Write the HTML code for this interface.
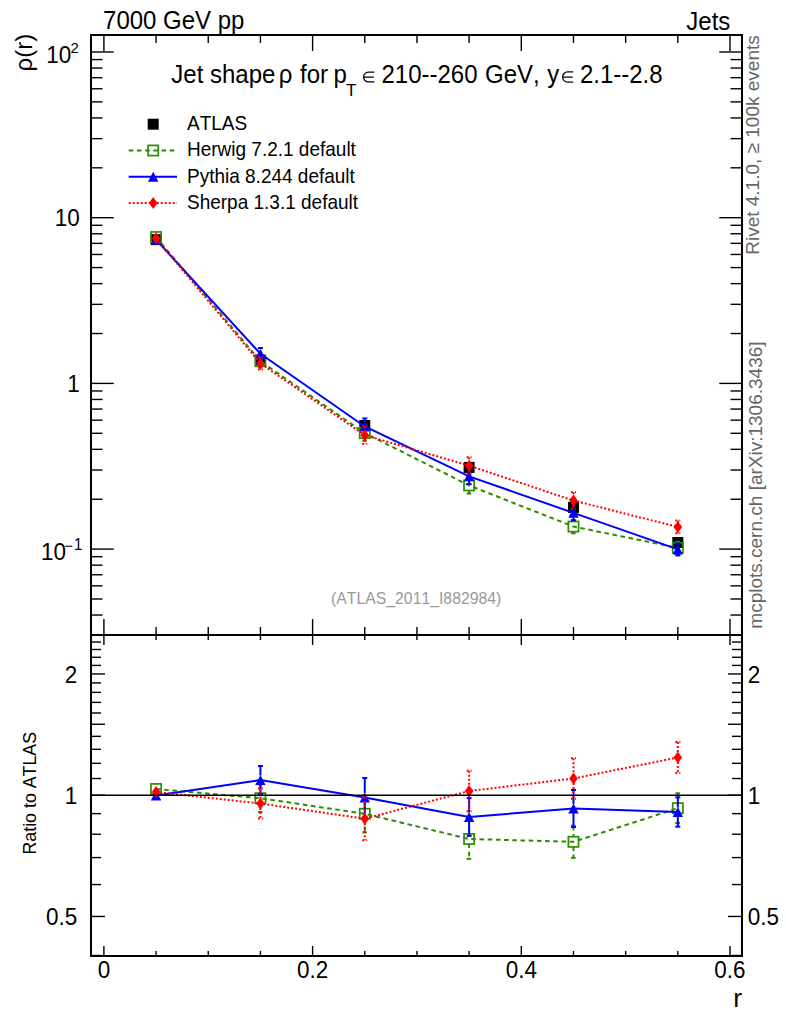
<!DOCTYPE html>
<html><head><meta charset="utf-8"><title>Jet shape</title>
<style>html,body{margin:0;padding:0;background:#fff;width:786px;height:1024px;overflow:hidden}svg{display:block}text{font-kerning:none}</style>
</head><body>
<svg width="786" height="1024" viewBox="0 0 786 1024">
<rect width="786" height="1024" fill="#fff"/>
<line x1="91.00" y1="615.04" x2="102.50" y2="615.04" stroke="#000" stroke-width="1.4" />
<line x1="742.00" y1="615.04" x2="730.50" y2="615.04" stroke="#000" stroke-width="1.4" />
<line x1="91.00" y1="598.98" x2="102.50" y2="598.98" stroke="#000" stroke-width="1.4" />
<line x1="742.00" y1="598.98" x2="730.50" y2="598.98" stroke="#000" stroke-width="1.4" />
<line x1="91.00" y1="585.86" x2="102.50" y2="585.86" stroke="#000" stroke-width="1.4" />
<line x1="742.00" y1="585.86" x2="730.50" y2="585.86" stroke="#000" stroke-width="1.4" />
<line x1="91.00" y1="574.77" x2="102.50" y2="574.77" stroke="#000" stroke-width="1.4" />
<line x1="742.00" y1="574.77" x2="730.50" y2="574.77" stroke="#000" stroke-width="1.4" />
<line x1="91.00" y1="565.16" x2="102.50" y2="565.16" stroke="#000" stroke-width="1.4" />
<line x1="742.00" y1="565.16" x2="730.50" y2="565.16" stroke="#000" stroke-width="1.4" />
<line x1="91.00" y1="556.68" x2="102.50" y2="556.68" stroke="#000" stroke-width="1.4" />
<line x1="742.00" y1="556.68" x2="730.50" y2="556.68" stroke="#000" stroke-width="1.4" />
<line x1="91.00" y1="549.10" x2="113.75" y2="549.10" stroke="#000" stroke-width="1.4" />
<line x1="742.00" y1="549.10" x2="719.25" y2="549.10" stroke="#000" stroke-width="1.4" />
<line x1="91.00" y1="499.22" x2="102.50" y2="499.22" stroke="#000" stroke-width="1.4" />
<line x1="742.00" y1="499.22" x2="730.50" y2="499.22" stroke="#000" stroke-width="1.4" />
<line x1="91.00" y1="470.04" x2="102.50" y2="470.04" stroke="#000" stroke-width="1.4" />
<line x1="742.00" y1="470.04" x2="730.50" y2="470.04" stroke="#000" stroke-width="1.4" />
<line x1="91.00" y1="449.34" x2="102.50" y2="449.34" stroke="#000" stroke-width="1.4" />
<line x1="742.00" y1="449.34" x2="730.50" y2="449.34" stroke="#000" stroke-width="1.4" />
<line x1="91.00" y1="433.28" x2="102.50" y2="433.28" stroke="#000" stroke-width="1.4" />
<line x1="742.00" y1="433.28" x2="730.50" y2="433.28" stroke="#000" stroke-width="1.4" />
<line x1="91.00" y1="420.16" x2="102.50" y2="420.16" stroke="#000" stroke-width="1.4" />
<line x1="742.00" y1="420.16" x2="730.50" y2="420.16" stroke="#000" stroke-width="1.4" />
<line x1="91.00" y1="409.07" x2="102.50" y2="409.07" stroke="#000" stroke-width="1.4" />
<line x1="742.00" y1="409.07" x2="730.50" y2="409.07" stroke="#000" stroke-width="1.4" />
<line x1="91.00" y1="399.46" x2="102.50" y2="399.46" stroke="#000" stroke-width="1.4" />
<line x1="742.00" y1="399.46" x2="730.50" y2="399.46" stroke="#000" stroke-width="1.4" />
<line x1="91.00" y1="390.98" x2="102.50" y2="390.98" stroke="#000" stroke-width="1.4" />
<line x1="742.00" y1="390.98" x2="730.50" y2="390.98" stroke="#000" stroke-width="1.4" />
<line x1="91.00" y1="383.40" x2="113.75" y2="383.40" stroke="#000" stroke-width="1.4" />
<line x1="742.00" y1="383.40" x2="719.25" y2="383.40" stroke="#000" stroke-width="1.4" />
<line x1="91.00" y1="333.52" x2="102.50" y2="333.52" stroke="#000" stroke-width="1.4" />
<line x1="742.00" y1="333.52" x2="730.50" y2="333.52" stroke="#000" stroke-width="1.4" />
<line x1="91.00" y1="304.34" x2="102.50" y2="304.34" stroke="#000" stroke-width="1.4" />
<line x1="742.00" y1="304.34" x2="730.50" y2="304.34" stroke="#000" stroke-width="1.4" />
<line x1="91.00" y1="283.64" x2="102.50" y2="283.64" stroke="#000" stroke-width="1.4" />
<line x1="742.00" y1="283.64" x2="730.50" y2="283.64" stroke="#000" stroke-width="1.4" />
<line x1="91.00" y1="267.58" x2="102.50" y2="267.58" stroke="#000" stroke-width="1.4" />
<line x1="742.00" y1="267.58" x2="730.50" y2="267.58" stroke="#000" stroke-width="1.4" />
<line x1="91.00" y1="254.46" x2="102.50" y2="254.46" stroke="#000" stroke-width="1.4" />
<line x1="742.00" y1="254.46" x2="730.50" y2="254.46" stroke="#000" stroke-width="1.4" />
<line x1="91.00" y1="243.37" x2="102.50" y2="243.37" stroke="#000" stroke-width="1.4" />
<line x1="742.00" y1="243.37" x2="730.50" y2="243.37" stroke="#000" stroke-width="1.4" />
<line x1="91.00" y1="233.76" x2="102.50" y2="233.76" stroke="#000" stroke-width="1.4" />
<line x1="742.00" y1="233.76" x2="730.50" y2="233.76" stroke="#000" stroke-width="1.4" />
<line x1="91.00" y1="225.28" x2="102.50" y2="225.28" stroke="#000" stroke-width="1.4" />
<line x1="742.00" y1="225.28" x2="730.50" y2="225.28" stroke="#000" stroke-width="1.4" />
<line x1="91.00" y1="217.70" x2="113.75" y2="217.70" stroke="#000" stroke-width="1.4" />
<line x1="742.00" y1="217.70" x2="719.25" y2="217.70" stroke="#000" stroke-width="1.4" />
<line x1="91.00" y1="167.82" x2="102.50" y2="167.82" stroke="#000" stroke-width="1.4" />
<line x1="742.00" y1="167.82" x2="730.50" y2="167.82" stroke="#000" stroke-width="1.4" />
<line x1="91.00" y1="138.64" x2="102.50" y2="138.64" stroke="#000" stroke-width="1.4" />
<line x1="742.00" y1="138.64" x2="730.50" y2="138.64" stroke="#000" stroke-width="1.4" />
<line x1="91.00" y1="117.94" x2="102.50" y2="117.94" stroke="#000" stroke-width="1.4" />
<line x1="742.00" y1="117.94" x2="730.50" y2="117.94" stroke="#000" stroke-width="1.4" />
<line x1="91.00" y1="101.88" x2="102.50" y2="101.88" stroke="#000" stroke-width="1.4" />
<line x1="742.00" y1="101.88" x2="730.50" y2="101.88" stroke="#000" stroke-width="1.4" />
<line x1="91.00" y1="88.76" x2="102.50" y2="88.76" stroke="#000" stroke-width="1.4" />
<line x1="742.00" y1="88.76" x2="730.50" y2="88.76" stroke="#000" stroke-width="1.4" />
<line x1="91.00" y1="77.67" x2="102.50" y2="77.67" stroke="#000" stroke-width="1.4" />
<line x1="742.00" y1="77.67" x2="730.50" y2="77.67" stroke="#000" stroke-width="1.4" />
<line x1="91.00" y1="68.06" x2="102.50" y2="68.06" stroke="#000" stroke-width="1.4" />
<line x1="742.00" y1="68.06" x2="730.50" y2="68.06" stroke="#000" stroke-width="1.4" />
<line x1="91.00" y1="59.58" x2="102.50" y2="59.58" stroke="#000" stroke-width="1.4" />
<line x1="742.00" y1="59.58" x2="730.50" y2="59.58" stroke="#000" stroke-width="1.4" />
<line x1="91.00" y1="52.00" x2="113.75" y2="52.00" stroke="#000" stroke-width="1.4" />
<line x1="742.00" y1="52.00" x2="719.25" y2="52.00" stroke="#000" stroke-width="1.4" />
<line x1="103.90" y1="35.00" x2="103.90" y2="51.00" stroke="#000" stroke-width="1.4" />
<line x1="103.90" y1="635.00" x2="103.90" y2="619.00" stroke="#000" stroke-width="1.4" />
<line x1="156.08" y1="35.00" x2="156.08" y2="43.00" stroke="#000" stroke-width="1.4" />
<line x1="156.08" y1="635.00" x2="156.08" y2="627.00" stroke="#000" stroke-width="1.4" />
<line x1="208.25" y1="35.00" x2="208.25" y2="43.00" stroke="#000" stroke-width="1.4" />
<line x1="208.25" y1="635.00" x2="208.25" y2="627.00" stroke="#000" stroke-width="1.4" />
<line x1="260.43" y1="35.00" x2="260.43" y2="43.00" stroke="#000" stroke-width="1.4" />
<line x1="260.43" y1="635.00" x2="260.43" y2="627.00" stroke="#000" stroke-width="1.4" />
<line x1="312.60" y1="35.00" x2="312.60" y2="51.00" stroke="#000" stroke-width="1.4" />
<line x1="312.60" y1="635.00" x2="312.60" y2="619.00" stroke="#000" stroke-width="1.4" />
<line x1="364.77" y1="35.00" x2="364.77" y2="43.00" stroke="#000" stroke-width="1.4" />
<line x1="364.77" y1="635.00" x2="364.77" y2="627.00" stroke="#000" stroke-width="1.4" />
<line x1="416.95" y1="35.00" x2="416.95" y2="43.00" stroke="#000" stroke-width="1.4" />
<line x1="416.95" y1="635.00" x2="416.95" y2="627.00" stroke="#000" stroke-width="1.4" />
<line x1="469.12" y1="35.00" x2="469.12" y2="43.00" stroke="#000" stroke-width="1.4" />
<line x1="469.12" y1="635.00" x2="469.12" y2="627.00" stroke="#000" stroke-width="1.4" />
<line x1="521.30" y1="35.00" x2="521.30" y2="51.00" stroke="#000" stroke-width="1.4" />
<line x1="521.30" y1="635.00" x2="521.30" y2="619.00" stroke="#000" stroke-width="1.4" />
<line x1="573.48" y1="35.00" x2="573.48" y2="43.00" stroke="#000" stroke-width="1.4" />
<line x1="573.48" y1="635.00" x2="573.48" y2="627.00" stroke="#000" stroke-width="1.4" />
<line x1="625.65" y1="35.00" x2="625.65" y2="43.00" stroke="#000" stroke-width="1.4" />
<line x1="625.65" y1="635.00" x2="625.65" y2="627.00" stroke="#000" stroke-width="1.4" />
<line x1="677.83" y1="35.00" x2="677.83" y2="43.00" stroke="#000" stroke-width="1.4" />
<line x1="677.83" y1="635.00" x2="677.83" y2="627.00" stroke="#000" stroke-width="1.4" />
<line x1="730.00" y1="35.00" x2="730.00" y2="51.00" stroke="#000" stroke-width="1.4" />
<line x1="730.00" y1="635.00" x2="730.00" y2="619.00" stroke="#000" stroke-width="1.4" />
<line x1="91.00" y1="955.49" x2="101.00" y2="955.49" stroke="#000" stroke-width="1.4" />
<line x1="742.00" y1="955.49" x2="732.00" y2="955.49" stroke="#000" stroke-width="1.4" />
<line x1="91.00" y1="916.45" x2="105.00" y2="916.45" stroke="#000" stroke-width="1.4" />
<line x1="742.00" y1="916.45" x2="728.00" y2="916.45" stroke="#000" stroke-width="1.4" />
<line x1="91.00" y1="884.56" x2="101.00" y2="884.56" stroke="#000" stroke-width="1.4" />
<line x1="742.00" y1="884.56" x2="732.00" y2="884.56" stroke="#000" stroke-width="1.4" />
<line x1="91.00" y1="857.59" x2="101.00" y2="857.59" stroke="#000" stroke-width="1.4" />
<line x1="742.00" y1="857.59" x2="732.00" y2="857.59" stroke="#000" stroke-width="1.4" />
<line x1="91.00" y1="834.24" x2="101.00" y2="834.24" stroke="#000" stroke-width="1.4" />
<line x1="742.00" y1="834.24" x2="732.00" y2="834.24" stroke="#000" stroke-width="1.4" />
<line x1="91.00" y1="813.63" x2="101.00" y2="813.63" stroke="#000" stroke-width="1.4" />
<line x1="742.00" y1="813.63" x2="732.00" y2="813.63" stroke="#000" stroke-width="1.4" />
<line x1="91.00" y1="795.20" x2="105.00" y2="795.20" stroke="#000" stroke-width="1.4" />
<line x1="742.00" y1="795.20" x2="728.00" y2="795.20" stroke="#000" stroke-width="1.4" />
<line x1="91.00" y1="778.53" x2="101.00" y2="778.53" stroke="#000" stroke-width="1.4" />
<line x1="742.00" y1="778.53" x2="732.00" y2="778.53" stroke="#000" stroke-width="1.4" />
<line x1="91.00" y1="763.31" x2="101.00" y2="763.31" stroke="#000" stroke-width="1.4" />
<line x1="742.00" y1="763.31" x2="732.00" y2="763.31" stroke="#000" stroke-width="1.4" />
<line x1="91.00" y1="749.30" x2="101.00" y2="749.30" stroke="#000" stroke-width="1.4" />
<line x1="742.00" y1="749.30" x2="732.00" y2="749.30" stroke="#000" stroke-width="1.4" />
<line x1="91.00" y1="736.34" x2="101.00" y2="736.34" stroke="#000" stroke-width="1.4" />
<line x1="742.00" y1="736.34" x2="732.00" y2="736.34" stroke="#000" stroke-width="1.4" />
<line x1="91.00" y1="724.27" x2="105.00" y2="724.27" stroke="#000" stroke-width="1.4" />
<line x1="742.00" y1="724.27" x2="728.00" y2="724.27" stroke="#000" stroke-width="1.4" />
<line x1="91.00" y1="712.98" x2="101.00" y2="712.98" stroke="#000" stroke-width="1.4" />
<line x1="742.00" y1="712.98" x2="732.00" y2="712.98" stroke="#000" stroke-width="1.4" />
<line x1="91.00" y1="702.38" x2="101.00" y2="702.38" stroke="#000" stroke-width="1.4" />
<line x1="742.00" y1="702.38" x2="732.00" y2="702.38" stroke="#000" stroke-width="1.4" />
<line x1="91.00" y1="692.38" x2="101.00" y2="692.38" stroke="#000" stroke-width="1.4" />
<line x1="742.00" y1="692.38" x2="732.00" y2="692.38" stroke="#000" stroke-width="1.4" />
<line x1="91.00" y1="682.92" x2="101.00" y2="682.92" stroke="#000" stroke-width="1.4" />
<line x1="742.00" y1="682.92" x2="732.00" y2="682.92" stroke="#000" stroke-width="1.4" />
<line x1="91.00" y1="673.95" x2="105.00" y2="673.95" stroke="#000" stroke-width="1.4" />
<line x1="742.00" y1="673.95" x2="728.00" y2="673.95" stroke="#000" stroke-width="1.4" />
<line x1="91.00" y1="665.41" x2="101.00" y2="665.41" stroke="#000" stroke-width="1.4" />
<line x1="742.00" y1="665.41" x2="732.00" y2="665.41" stroke="#000" stroke-width="1.4" />
<line x1="91.00" y1="657.27" x2="101.00" y2="657.27" stroke="#000" stroke-width="1.4" />
<line x1="742.00" y1="657.27" x2="732.00" y2="657.27" stroke="#000" stroke-width="1.4" />
<line x1="91.00" y1="649.50" x2="101.00" y2="649.50" stroke="#000" stroke-width="1.4" />
<line x1="742.00" y1="649.50" x2="732.00" y2="649.50" stroke="#000" stroke-width="1.4" />
<line x1="91.00" y1="642.05" x2="101.00" y2="642.05" stroke="#000" stroke-width="1.4" />
<line x1="742.00" y1="642.05" x2="732.00" y2="642.05" stroke="#000" stroke-width="1.4" />
<line x1="103.90" y1="635.00" x2="103.90" y2="645.00" stroke="#000" stroke-width="1.4" />
<line x1="103.90" y1="956.00" x2="103.90" y2="946.00" stroke="#000" stroke-width="1.4" />
<line x1="156.08" y1="635.00" x2="156.08" y2="640.00" stroke="#000" stroke-width="1.4" />
<line x1="156.08" y1="956.00" x2="156.08" y2="951.00" stroke="#000" stroke-width="1.4" />
<line x1="208.25" y1="635.00" x2="208.25" y2="640.00" stroke="#000" stroke-width="1.4" />
<line x1="208.25" y1="956.00" x2="208.25" y2="951.00" stroke="#000" stroke-width="1.4" />
<line x1="260.43" y1="635.00" x2="260.43" y2="640.00" stroke="#000" stroke-width="1.4" />
<line x1="260.43" y1="956.00" x2="260.43" y2="951.00" stroke="#000" stroke-width="1.4" />
<line x1="312.60" y1="635.00" x2="312.60" y2="645.00" stroke="#000" stroke-width="1.4" />
<line x1="312.60" y1="956.00" x2="312.60" y2="946.00" stroke="#000" stroke-width="1.4" />
<line x1="364.77" y1="635.00" x2="364.77" y2="640.00" stroke="#000" stroke-width="1.4" />
<line x1="364.77" y1="956.00" x2="364.77" y2="951.00" stroke="#000" stroke-width="1.4" />
<line x1="416.95" y1="635.00" x2="416.95" y2="640.00" stroke="#000" stroke-width="1.4" />
<line x1="416.95" y1="956.00" x2="416.95" y2="951.00" stroke="#000" stroke-width="1.4" />
<line x1="469.12" y1="635.00" x2="469.12" y2="640.00" stroke="#000" stroke-width="1.4" />
<line x1="469.12" y1="956.00" x2="469.12" y2="951.00" stroke="#000" stroke-width="1.4" />
<line x1="521.30" y1="635.00" x2="521.30" y2="645.00" stroke="#000" stroke-width="1.4" />
<line x1="521.30" y1="956.00" x2="521.30" y2="946.00" stroke="#000" stroke-width="1.4" />
<line x1="573.48" y1="635.00" x2="573.48" y2="640.00" stroke="#000" stroke-width="1.4" />
<line x1="573.48" y1="956.00" x2="573.48" y2="951.00" stroke="#000" stroke-width="1.4" />
<line x1="625.65" y1="635.00" x2="625.65" y2="640.00" stroke="#000" stroke-width="1.4" />
<line x1="625.65" y1="956.00" x2="625.65" y2="951.00" stroke="#000" stroke-width="1.4" />
<line x1="677.83" y1="635.00" x2="677.83" y2="640.00" stroke="#000" stroke-width="1.4" />
<line x1="677.83" y1="956.00" x2="677.83" y2="951.00" stroke="#000" stroke-width="1.4" />
<line x1="730.00" y1="635.00" x2="730.00" y2="645.00" stroke="#000" stroke-width="1.4" />
<line x1="730.00" y1="956.00" x2="730.00" y2="946.00" stroke="#000" stroke-width="1.4" />
<clipPath id="cm"><rect x="91" y="35" width="651" height="600"/></clipPath>
<clipPath id="cr"><rect x="91" y="635" width="651" height="321"/></clipPath>
<g clip-path="url(#cm)">
<rect x="150.58" y="234.10" width="11" height="11" fill="#000"/>
<rect x="254.93" y="354.50" width="11" height="11" fill="#000"/>
<rect x="359.27" y="420.00" width="11" height="11" fill="#000"/>
<rect x="463.62" y="461.90" width="11" height="11" fill="#000"/>
<rect x="567.98" y="501.90" width="11" height="11" fill="#000"/>
<rect x="672.33" y="537.00" width="11" height="11" fill="#000"/>
<polyline points="156.08,237.05 260.43,361.23 364.77,433.15 469.12,485.42 573.48,526.57 677.83,547.85" fill="none" stroke="#2d8c00" stroke-width="2" stroke-dasharray="4.6 3.6"/>
<line x1="260.43" y1="355.56" x2="260.43" y2="356.73" stroke="#2d8c00" stroke-width="2" stroke-dasharray="4.6 3.6"/>
<line x1="260.43" y1="365.73" x2="260.43" y2="366.91" stroke="#2d8c00" stroke-width="2" stroke-dasharray="4.6 3.6"/>
<line x1="257.93" y1="355.56" x2="262.93" y2="355.56" stroke="#2d8c00" stroke-width="2" stroke-dasharray="4.6 3.6"/>
<line x1="257.93" y1="366.91" x2="262.93" y2="366.91" stroke="#2d8c00" stroke-width="2" stroke-dasharray="4.6 3.6"/>
<line x1="364.77" y1="425.54" x2="364.77" y2="428.65" stroke="#2d8c00" stroke-width="2" stroke-dasharray="4.6 3.6"/>
<line x1="364.77" y1="437.65" x2="364.77" y2="440.76" stroke="#2d8c00" stroke-width="2" stroke-dasharray="4.6 3.6"/>
<line x1="362.27" y1="425.54" x2="367.27" y2="425.54" stroke="#2d8c00" stroke-width="2" stroke-dasharray="4.6 3.6"/>
<line x1="362.27" y1="440.76" x2="367.27" y2="440.76" stroke="#2d8c00" stroke-width="2" stroke-dasharray="4.6 3.6"/>
<line x1="469.12" y1="477.27" x2="469.12" y2="480.92" stroke="#2d8c00" stroke-width="2" stroke-dasharray="4.6 3.6"/>
<line x1="469.12" y1="489.92" x2="469.12" y2="493.56" stroke="#2d8c00" stroke-width="2" stroke-dasharray="4.6 3.6"/>
<line x1="466.62" y1="477.27" x2="471.62" y2="477.27" stroke="#2d8c00" stroke-width="2" stroke-dasharray="4.6 3.6"/>
<line x1="466.62" y1="493.56" x2="471.62" y2="493.56" stroke="#2d8c00" stroke-width="2" stroke-dasharray="4.6 3.6"/>
<line x1="573.48" y1="519.95" x2="573.48" y2="522.07" stroke="#2d8c00" stroke-width="2" stroke-dasharray="4.6 3.6"/>
<line x1="573.48" y1="531.07" x2="573.48" y2="533.19" stroke="#2d8c00" stroke-width="2" stroke-dasharray="4.6 3.6"/>
<line x1="570.98" y1="519.95" x2="575.98" y2="519.95" stroke="#2d8c00" stroke-width="2" stroke-dasharray="4.6 3.6"/>
<line x1="570.98" y1="533.19" x2="575.98" y2="533.19" stroke="#2d8c00" stroke-width="2" stroke-dasharray="4.6 3.6"/>
<line x1="677.83" y1="541.72" x2="677.83" y2="543.35" stroke="#2d8c00" stroke-width="2" stroke-dasharray="4.6 3.6"/>
<line x1="677.83" y1="552.35" x2="677.83" y2="553.98" stroke="#2d8c00" stroke-width="2" stroke-dasharray="4.6 3.6"/>
<line x1="675.33" y1="541.72" x2="680.33" y2="541.72" stroke="#2d8c00" stroke-width="2" stroke-dasharray="4.6 3.6"/>
<line x1="675.33" y1="553.98" x2="680.33" y2="553.98" stroke="#2d8c00" stroke-width="2" stroke-dasharray="4.6 3.6"/>
<rect x="150.98" y="231.95" width="10.2" height="10.2" fill="none" stroke="#2d8c00" stroke-width="1.7"/>
<rect x="255.33" y="356.13" width="10.2" height="10.2" fill="none" stroke="#2d8c00" stroke-width="1.7"/>
<rect x="359.67" y="428.05" width="10.2" height="10.2" fill="none" stroke="#2d8c00" stroke-width="1.7"/>
<rect x="464.02" y="480.32" width="10.2" height="10.2" fill="none" stroke="#2d8c00" stroke-width="1.7"/>
<rect x="568.38" y="521.47" width="10.2" height="10.2" fill="none" stroke="#2d8c00" stroke-width="1.7"/>
<rect x="672.73" y="542.75" width="10.2" height="10.2" fill="none" stroke="#2d8c00" stroke-width="1.7"/>
<polyline points="156.08,239.76 260.43,353.75 364.77,426.45 469.12,476.37 573.48,512.87 677.83,549.41" fill="none" stroke="#0000ff" stroke-width="2" />
<line x1="260.43" y1="347.99" x2="260.43" y2="349.25" stroke="#0000ff" stroke-width="2" />
<line x1="260.43" y1="358.25" x2="260.43" y2="359.51" stroke="#0000ff" stroke-width="2" />
<line x1="257.93" y1="347.99" x2="262.93" y2="347.99" stroke="#0000ff" stroke-width="2" />
<line x1="257.93" y1="359.51" x2="262.93" y2="359.51" stroke="#0000ff" stroke-width="2" />
<line x1="364.77" y1="418.42" x2="364.77" y2="421.95" stroke="#0000ff" stroke-width="2" />
<line x1="364.77" y1="430.95" x2="364.77" y2="434.47" stroke="#0000ff" stroke-width="2" />
<line x1="362.27" y1="418.42" x2="367.27" y2="418.42" stroke="#0000ff" stroke-width="2" />
<line x1="362.27" y1="434.47" x2="367.27" y2="434.47" stroke="#0000ff" stroke-width="2" />
<line x1="469.12" y1="468.59" x2="469.12" y2="471.87" stroke="#0000ff" stroke-width="2" />
<line x1="469.12" y1="480.87" x2="469.12" y2="484.14" stroke="#0000ff" stroke-width="2" />
<line x1="466.62" y1="468.59" x2="471.62" y2="468.59" stroke="#0000ff" stroke-width="2" />
<line x1="466.62" y1="484.14" x2="471.62" y2="484.14" stroke="#0000ff" stroke-width="2" />
<line x1="573.48" y1="505.26" x2="573.48" y2="508.37" stroke="#0000ff" stroke-width="2" />
<line x1="573.48" y1="517.37" x2="573.48" y2="520.48" stroke="#0000ff" stroke-width="2" />
<line x1="570.98" y1="505.26" x2="575.98" y2="505.26" stroke="#0000ff" stroke-width="2" />
<line x1="570.98" y1="520.48" x2="575.98" y2="520.48" stroke="#0000ff" stroke-width="2" />
<line x1="677.83" y1="543.38" x2="677.83" y2="544.91" stroke="#0000ff" stroke-width="2" />
<line x1="677.83" y1="553.91" x2="677.83" y2="555.44" stroke="#0000ff" stroke-width="2" />
<line x1="675.33" y1="543.38" x2="680.33" y2="543.38" stroke="#0000ff" stroke-width="2" />
<line x1="675.33" y1="555.44" x2="680.33" y2="555.44" stroke="#0000ff" stroke-width="2" />
<polygon points="156.08,234.76 161.28,244.76 150.88,244.76" fill="#0000ff"/>
<polygon points="260.43,348.75 265.63,358.75 255.23,358.75" fill="#0000ff"/>
<polygon points="364.77,421.45 369.97,431.45 359.57,431.45" fill="#0000ff"/>
<polygon points="469.12,471.37 474.32,481.37 463.93,481.37" fill="#0000ff"/>
<polygon points="573.48,507.87 578.68,517.87 568.27,517.87" fill="#0000ff"/>
<polygon points="677.83,544.41 683.03,554.41 672.62,554.41" fill="#0000ff"/>
<polyline points="156.08,238.28 260.43,363.41 364.77,435.17 469.12,465.67 573.48,500.53 677.83,526.99" fill="none" stroke="#ff0000" stroke-width="2" stroke-dasharray="2 2"/>
<line x1="260.43" y1="357.24" x2="260.43" y2="358.91" stroke="#ff0000" stroke-width="2" stroke-dasharray="2 2"/>
<line x1="260.43" y1="367.91" x2="260.43" y2="369.58" stroke="#ff0000" stroke-width="2" stroke-dasharray="2 2"/>
<line x1="257.93" y1="357.24" x2="262.93" y2="357.24" stroke="#ff0000" stroke-width="2" stroke-dasharray="2 2"/>
<line x1="257.93" y1="369.58" x2="262.93" y2="369.58" stroke="#ff0000" stroke-width="2" stroke-dasharray="2 2"/>
<line x1="364.77" y1="426.28" x2="364.77" y2="430.67" stroke="#ff0000" stroke-width="2" stroke-dasharray="2 2"/>
<line x1="364.77" y1="439.67" x2="364.77" y2="444.05" stroke="#ff0000" stroke-width="2" stroke-dasharray="2 2"/>
<line x1="362.27" y1="426.28" x2="367.27" y2="426.28" stroke="#ff0000" stroke-width="2" stroke-dasharray="2 2"/>
<line x1="362.27" y1="444.05" x2="367.27" y2="444.05" stroke="#ff0000" stroke-width="2" stroke-dasharray="2 2"/>
<line x1="469.12" y1="457.32" x2="469.12" y2="461.17" stroke="#ff0000" stroke-width="2" stroke-dasharray="2 2"/>
<line x1="469.12" y1="470.17" x2="469.12" y2="474.02" stroke="#ff0000" stroke-width="2" stroke-dasharray="2 2"/>
<line x1="466.62" y1="457.32" x2="471.62" y2="457.32" stroke="#ff0000" stroke-width="2" stroke-dasharray="2 2"/>
<line x1="466.62" y1="474.02" x2="471.62" y2="474.02" stroke="#ff0000" stroke-width="2" stroke-dasharray="2 2"/>
<line x1="573.48" y1="492.22" x2="573.48" y2="496.03" stroke="#ff0000" stroke-width="2" stroke-dasharray="2 2"/>
<line x1="573.48" y1="505.03" x2="573.48" y2="508.84" stroke="#ff0000" stroke-width="2" stroke-dasharray="2 2"/>
<line x1="570.98" y1="492.22" x2="575.98" y2="492.22" stroke="#ff0000" stroke-width="2" stroke-dasharray="2 2"/>
<line x1="570.98" y1="508.84" x2="575.98" y2="508.84" stroke="#ff0000" stroke-width="2" stroke-dasharray="2 2"/>
<line x1="677.83" y1="520.62" x2="677.83" y2="522.49" stroke="#ff0000" stroke-width="2" stroke-dasharray="2 2"/>
<line x1="677.83" y1="531.49" x2="677.83" y2="533.37" stroke="#ff0000" stroke-width="2" stroke-dasharray="2 2"/>
<line x1="675.33" y1="520.62" x2="680.33" y2="520.62" stroke="#ff0000" stroke-width="2" stroke-dasharray="2 2"/>
<line x1="675.33" y1="533.37" x2="680.33" y2="533.37" stroke="#ff0000" stroke-width="2" stroke-dasharray="2 2"/>
<polygon points="156.08,232.28 160.38,238.28 156.08,244.28 151.78,238.28" fill="#ff0000"/>
<polygon points="260.43,357.41 264.73,363.41 260.43,369.41 256.13,363.41" fill="#ff0000"/>
<polygon points="364.77,429.17 369.07,435.17 364.77,441.17 360.47,435.17" fill="#ff0000"/>
<polygon points="469.12,459.67 473.43,465.67 469.12,471.67 464.82,465.67" fill="#ff0000"/>
<polygon points="573.48,494.53 577.77,500.53 573.48,506.53 569.18,500.53" fill="#ff0000"/>
<polygon points="677.83,520.99 682.12,526.99 677.83,532.99 673.53,526.99" fill="#ff0000"/>
</g>
<g clip-path="url(#cr)">
<polyline points="156.08,789.00 260.43,798.20 364.77,813.80 469.12,839.00 573.48,841.80 677.83,808.20" fill="none" stroke="#2d8c00" stroke-width="2" stroke-dasharray="4.6 3.6"/>
<line x1="260.43" y1="784.40" x2="260.43" y2="793.70" stroke="#2d8c00" stroke-width="2" stroke-dasharray="4.6 3.6"/>
<line x1="260.43" y1="802.70" x2="260.43" y2="812.00" stroke="#2d8c00" stroke-width="2" stroke-dasharray="4.6 3.6"/>
<line x1="257.93" y1="784.40" x2="262.93" y2="784.40" stroke="#2d8c00" stroke-width="2" stroke-dasharray="4.6 3.6"/>
<line x1="257.93" y1="812.00" x2="262.93" y2="812.00" stroke="#2d8c00" stroke-width="2" stroke-dasharray="4.6 3.6"/>
<line x1="364.77" y1="795.30" x2="364.77" y2="809.30" stroke="#2d8c00" stroke-width="2" stroke-dasharray="4.6 3.6"/>
<line x1="364.77" y1="818.30" x2="364.77" y2="832.30" stroke="#2d8c00" stroke-width="2" stroke-dasharray="4.6 3.6"/>
<line x1="362.27" y1="795.30" x2="367.27" y2="795.30" stroke="#2d8c00" stroke-width="2" stroke-dasharray="4.6 3.6"/>
<line x1="362.27" y1="832.30" x2="367.27" y2="832.30" stroke="#2d8c00" stroke-width="2" stroke-dasharray="4.6 3.6"/>
<line x1="469.12" y1="819.20" x2="469.12" y2="834.50" stroke="#2d8c00" stroke-width="2" stroke-dasharray="4.6 3.6"/>
<line x1="469.12" y1="843.50" x2="469.12" y2="858.80" stroke="#2d8c00" stroke-width="2" stroke-dasharray="4.6 3.6"/>
<line x1="466.62" y1="819.20" x2="471.62" y2="819.20" stroke="#2d8c00" stroke-width="2" stroke-dasharray="4.6 3.6"/>
<line x1="466.62" y1="858.80" x2="471.62" y2="858.80" stroke="#2d8c00" stroke-width="2" stroke-dasharray="4.6 3.6"/>
<line x1="573.48" y1="825.70" x2="573.48" y2="837.30" stroke="#2d8c00" stroke-width="2" stroke-dasharray="4.6 3.6"/>
<line x1="573.48" y1="846.30" x2="573.48" y2="857.90" stroke="#2d8c00" stroke-width="2" stroke-dasharray="4.6 3.6"/>
<line x1="570.98" y1="825.70" x2="575.98" y2="825.70" stroke="#2d8c00" stroke-width="2" stroke-dasharray="4.6 3.6"/>
<line x1="570.98" y1="857.90" x2="575.98" y2="857.90" stroke="#2d8c00" stroke-width="2" stroke-dasharray="4.6 3.6"/>
<line x1="677.83" y1="793.30" x2="677.83" y2="803.70" stroke="#2d8c00" stroke-width="2" stroke-dasharray="4.6 3.6"/>
<line x1="677.83" y1="812.70" x2="677.83" y2="823.10" stroke="#2d8c00" stroke-width="2" stroke-dasharray="4.6 3.6"/>
<line x1="675.33" y1="793.30" x2="680.33" y2="793.30" stroke="#2d8c00" stroke-width="2" stroke-dasharray="4.6 3.6"/>
<line x1="675.33" y1="823.10" x2="680.33" y2="823.10" stroke="#2d8c00" stroke-width="2" stroke-dasharray="4.6 3.6"/>
<rect x="150.98" y="783.90" width="10.2" height="10.2" fill="none" stroke="#2d8c00" stroke-width="1.7"/>
<rect x="255.33" y="793.10" width="10.2" height="10.2" fill="none" stroke="#2d8c00" stroke-width="1.7"/>
<rect x="359.67" y="808.70" width="10.2" height="10.2" fill="none" stroke="#2d8c00" stroke-width="1.7"/>
<rect x="464.02" y="833.90" width="10.2" height="10.2" fill="none" stroke="#2d8c00" stroke-width="1.7"/>
<rect x="568.38" y="836.70" width="10.2" height="10.2" fill="none" stroke="#2d8c00" stroke-width="1.7"/>
<rect x="672.73" y="803.10" width="10.2" height="10.2" fill="none" stroke="#2d8c00" stroke-width="1.7"/>
<polyline points="156.08,795.60 260.43,780.00 364.77,797.50 469.12,817.00 573.48,808.50 677.83,812.00" fill="none" stroke="#0000ff" stroke-width="2" />
<line x1="260.43" y1="766.00" x2="260.43" y2="775.50" stroke="#0000ff" stroke-width="2" />
<line x1="260.43" y1="784.50" x2="260.43" y2="794.00" stroke="#0000ff" stroke-width="2" />
<line x1="257.93" y1="766.00" x2="262.93" y2="766.00" stroke="#0000ff" stroke-width="2" />
<line x1="257.93" y1="794.00" x2="262.93" y2="794.00" stroke="#0000ff" stroke-width="2" />
<line x1="364.77" y1="778.00" x2="364.77" y2="793.00" stroke="#0000ff" stroke-width="2" />
<line x1="364.77" y1="802.00" x2="364.77" y2="817.00" stroke="#0000ff" stroke-width="2" />
<line x1="362.27" y1="778.00" x2="367.27" y2="778.00" stroke="#0000ff" stroke-width="2" />
<line x1="362.27" y1="817.00" x2="367.27" y2="817.00" stroke="#0000ff" stroke-width="2" />
<line x1="469.12" y1="798.10" x2="469.12" y2="812.50" stroke="#0000ff" stroke-width="2" />
<line x1="469.12" y1="821.50" x2="469.12" y2="835.90" stroke="#0000ff" stroke-width="2" />
<line x1="466.62" y1="798.10" x2="471.62" y2="798.10" stroke="#0000ff" stroke-width="2" />
<line x1="466.62" y1="835.90" x2="471.62" y2="835.90" stroke="#0000ff" stroke-width="2" />
<line x1="573.48" y1="790.00" x2="573.48" y2="804.00" stroke="#0000ff" stroke-width="2" />
<line x1="573.48" y1="813.00" x2="573.48" y2="827.00" stroke="#0000ff" stroke-width="2" />
<line x1="570.98" y1="790.00" x2="575.98" y2="790.00" stroke="#0000ff" stroke-width="2" />
<line x1="570.98" y1="827.00" x2="575.98" y2="827.00" stroke="#0000ff" stroke-width="2" />
<line x1="677.83" y1="797.35" x2="677.83" y2="807.50" stroke="#0000ff" stroke-width="2" />
<line x1="677.83" y1="816.50" x2="677.83" y2="826.65" stroke="#0000ff" stroke-width="2" />
<line x1="675.33" y1="797.35" x2="680.33" y2="797.35" stroke="#0000ff" stroke-width="2" />
<line x1="675.33" y1="826.65" x2="680.33" y2="826.65" stroke="#0000ff" stroke-width="2" />
<polygon points="156.08,790.60 161.28,800.60 150.88,800.60" fill="#0000ff"/>
<polygon points="260.43,775.00 265.63,785.00 255.23,785.00" fill="#0000ff"/>
<polygon points="364.77,792.50 369.97,802.50 359.57,802.50" fill="#0000ff"/>
<polygon points="469.12,812.00 474.32,822.00 463.93,822.00" fill="#0000ff"/>
<polygon points="573.48,803.50 578.68,813.50 568.27,813.50" fill="#0000ff"/>
<polygon points="677.83,807.00 683.03,817.00 672.62,817.00" fill="#0000ff"/>
<polyline points="156.08,792.00 260.43,803.50 364.77,818.70 469.12,791.00 573.48,778.50 677.83,757.50" fill="none" stroke="#ff0000" stroke-width="2" stroke-dasharray="2 2"/>
<line x1="260.43" y1="788.50" x2="260.43" y2="799.00" stroke="#ff0000" stroke-width="2" stroke-dasharray="2 2"/>
<line x1="260.43" y1="808.00" x2="260.43" y2="818.50" stroke="#ff0000" stroke-width="2" stroke-dasharray="2 2"/>
<line x1="257.93" y1="788.50" x2="262.93" y2="788.50" stroke="#ff0000" stroke-width="2" stroke-dasharray="2 2"/>
<line x1="257.93" y1="818.50" x2="262.93" y2="818.50" stroke="#ff0000" stroke-width="2" stroke-dasharray="2 2"/>
<line x1="364.77" y1="797.10" x2="364.77" y2="814.20" stroke="#ff0000" stroke-width="2" stroke-dasharray="2 2"/>
<line x1="364.77" y1="823.20" x2="364.77" y2="840.30" stroke="#ff0000" stroke-width="2" stroke-dasharray="2 2"/>
<line x1="362.27" y1="797.10" x2="367.27" y2="797.10" stroke="#ff0000" stroke-width="2" stroke-dasharray="2 2"/>
<line x1="362.27" y1="840.30" x2="367.27" y2="840.30" stroke="#ff0000" stroke-width="2" stroke-dasharray="2 2"/>
<line x1="469.12" y1="770.70" x2="469.12" y2="786.50" stroke="#ff0000" stroke-width="2" stroke-dasharray="2 2"/>
<line x1="469.12" y1="795.50" x2="469.12" y2="811.30" stroke="#ff0000" stroke-width="2" stroke-dasharray="2 2"/>
<line x1="466.62" y1="770.70" x2="471.62" y2="770.70" stroke="#ff0000" stroke-width="2" stroke-dasharray="2 2"/>
<line x1="466.62" y1="811.30" x2="471.62" y2="811.30" stroke="#ff0000" stroke-width="2" stroke-dasharray="2 2"/>
<line x1="573.48" y1="758.30" x2="573.48" y2="774.00" stroke="#ff0000" stroke-width="2" stroke-dasharray="2 2"/>
<line x1="573.48" y1="783.00" x2="573.48" y2="798.70" stroke="#ff0000" stroke-width="2" stroke-dasharray="2 2"/>
<line x1="570.98" y1="758.30" x2="575.98" y2="758.30" stroke="#ff0000" stroke-width="2" stroke-dasharray="2 2"/>
<line x1="570.98" y1="798.70" x2="575.98" y2="798.70" stroke="#ff0000" stroke-width="2" stroke-dasharray="2 2"/>
<line x1="677.83" y1="742.00" x2="677.83" y2="753.00" stroke="#ff0000" stroke-width="2" stroke-dasharray="2 2"/>
<line x1="677.83" y1="762.00" x2="677.83" y2="773.00" stroke="#ff0000" stroke-width="2" stroke-dasharray="2 2"/>
<line x1="675.33" y1="742.00" x2="680.33" y2="742.00" stroke="#ff0000" stroke-width="2" stroke-dasharray="2 2"/>
<line x1="675.33" y1="773.00" x2="680.33" y2="773.00" stroke="#ff0000" stroke-width="2" stroke-dasharray="2 2"/>
<polygon points="156.08,786.00 160.38,792.00 156.08,798.00 151.78,792.00" fill="#ff0000"/>
<polygon points="260.43,797.50 264.73,803.50 260.43,809.50 256.13,803.50" fill="#ff0000"/>
<polygon points="364.77,812.70 369.07,818.70 364.77,824.70 360.47,818.70" fill="#ff0000"/>
<polygon points="469.12,785.00 473.43,791.00 469.12,797.00 464.82,791.00" fill="#ff0000"/>
<polygon points="573.48,772.50 577.77,778.50 573.48,784.50 569.18,778.50" fill="#ff0000"/>
<polygon points="677.83,751.50 682.12,757.50 677.83,763.50 673.53,757.50" fill="#ff0000"/>
<line x1="91.00" y1="795.20" x2="742.00" y2="795.20" stroke="#000" stroke-width="1.6" />
</g>
<rect x="91" y="35" width="651" height="600" fill="none" stroke="#000" stroke-width="2"/>
<rect x="91" y="635" width="651" height="321" fill="none" stroke="#000" stroke-width="2"/>
<text transform="translate(103.10,28.80) scale(1,1.04)" font-family="Liberation Sans" font-size="24" fill="#000" >7000 GeV pp</text>
<text transform="translate(686.30,29.70) scale(1,1.04)" font-family="Liberation Sans" font-size="24" fill="#000" >Jets</text>
<text transform="translate(171.30,83.00) scale(1,1.06)" font-family="Liberation Sans" font-size="24" fill="#000" >Jet shape</text>
<text transform="translate(278.70,83.00) scale(1,1.06)" font-family="Liberation Sans" font-size="24" fill="#000" >ρ</text>
<text transform="translate(300.00,83.00) scale(1,1.06)" font-family="Liberation Sans" font-size="24" fill="#000" >for</text>
<text transform="translate(333.60,83.00) scale(1,1.06)" font-family="Liberation Sans" font-size="24" fill="#000" >p</text>
<text x="346.00" y="95.60" font-family="Liberation Sans" font-size="17" fill="#000" >T</text>
<path d="M374.40,72.15 H368.45 A4.90,4.90 0 0 0 368.45,81.95 H374.40 M363.55,77.05 H373.90" fill="none" stroke="#000" stroke-width="1.3"/>
<text transform="translate(381.50,83.00) scale(1,1.06)" font-family="Liberation Sans" font-size="24" fill="#000" >210--260</text>
<text transform="translate(485.10,83.00) scale(1,1.06)" font-family="Liberation Sans" font-size="24" fill="#000" >GeV,</text>
<text transform="translate(547.30,83.00) scale(1,1.06)" font-family="Liberation Sans" font-size="24" fill="#000" >y</text>
<path d="M573.20,71.95 H567.65 A5.10,5.10 0 0 0 567.65,82.15 H573.20 M562.55,77.05 H572.70" fill="none" stroke="#000" stroke-width="1.3"/>
<text transform="translate(579.90,83.00) scale(1,1.06)" font-family="Liberation Sans" font-size="24" fill="#000" >2.1--2.8</text>
<rect x="147.70" y="118.70" width="11" height="11" fill="#000"/>
<text transform="translate(187.00,130.00) scale(1,1.05)" font-family="Liberation Sans" font-size="19" fill="#000" >ATLAS</text>
<line x1="128.70" y1="150.50" x2="177.00" y2="150.50" stroke="#2d8c00" stroke-width="2" stroke-dasharray="4.6 3.6"/>
<rect x="148.10" y="145.40" width="10.2" height="10.2" fill="none" stroke="#2d8c00" stroke-width="1.7"/>
<text transform="translate(187.00,156.30) scale(1,1.05)" font-family="Liberation Sans" font-size="19" fill="#000" >Herwig 7.2.1 default</text>
<line x1="128.70" y1="176.80" x2="177.00" y2="176.80" stroke="#0000ff" stroke-width="2" />
<polygon points="153.20,171.80 158.40,181.80 148.00,181.80" fill="#0000ff"/>
<text transform="translate(187.00,182.60) scale(1,1.05)" font-family="Liberation Sans" font-size="19" fill="#000" >Pythia 8.244 default</text>
<line x1="128.70" y1="203.10" x2="177.00" y2="203.10" stroke="#ff0000" stroke-width="2" stroke-dasharray="2 2"/>
<polygon points="153.20,197.10 157.50,203.10 153.20,209.10 148.90,203.10" fill="#ff0000"/>
<text transform="translate(187.00,208.90) scale(1,1.05)" font-family="Liberation Sans" font-size="19" fill="#000" >Sherpa 1.3.1 default</text>
<text transform="translate(331.00,603.60) scale(1,1.04)" font-family="Liberation Sans" font-size="15.8" fill="#999999" >(ATLAS_2011_I882984)</text>
<text transform="translate(46.20,63.30) scale(1,1.1)" font-family="Liberation Sans" font-size="22.5" fill="#000" >10</text>
<text x="70.60" y="52.80" font-family="Liberation Sans" font-size="15" fill="#000" >2</text>
<text transform="translate(54.70,226.10) scale(1,1.1)" font-family="Liberation Sans" font-size="22.5" fill="#000" >10</text>
<text transform="translate(67.20,391.90) scale(1,1.1)" font-family="Liberation Sans" font-size="22.5" fill="#000" >1</text>
<text transform="translate(41.05,560.00) scale(1,1.1)" font-family="Liberation Sans" font-size="22.5" fill="#000" >10</text>
<text x="64.20" y="551.00" font-family="Liberation Sans" font-size="15" fill="#000" >−</text>
<text transform="translate(74.10,549.80) scale(1,1.05)" font-family="Liberation Sans" font-size="15" fill="#000" >1</text>
<text transform="translate(103.90,978.30) scale(1,1.1)" font-family="Liberation Sans" font-size="22.5" fill="#000" text-anchor="middle">0</text>
<text transform="translate(312.60,978.30) scale(1,1.1)" font-family="Liberation Sans" font-size="22.5" fill="#000" text-anchor="middle">0.2</text>
<text transform="translate(521.30,978.30) scale(1,1.1)" font-family="Liberation Sans" font-size="22.5" fill="#000" text-anchor="middle">0.4</text>
<text transform="translate(730.00,978.30) scale(1,1.1)" font-family="Liberation Sans" font-size="22.5" fill="#000" text-anchor="middle">0.6</text>
<text x="733.20" y="1006.90" font-family="Liberation Sans" font-size="26.5" fill="#000" >r</text>
<text transform="translate(77.30,682.95) scale(1,1.1)" font-family="Liberation Sans" font-size="22.5" fill="#000" text-anchor="end">2</text>
<text transform="translate(747.80,682.95) scale(1,1.1)" font-family="Liberation Sans" font-size="22.5" fill="#000" >2</text>
<text transform="translate(77.30,804.20) scale(1,1.1)" font-family="Liberation Sans" font-size="22.5" fill="#000" text-anchor="end">1</text>
<text transform="translate(747.80,804.20) scale(1,1.1)" font-family="Liberation Sans" font-size="22.5" fill="#000" >1</text>
<text transform="translate(77.30,925.45) scale(1,1.1)" font-family="Liberation Sans" font-size="22.5" fill="#000" text-anchor="end">0.5</text>
<text transform="translate(747.80,925.45) scale(1,1.1)" font-family="Liberation Sans" font-size="22.5" fill="#000" >0.5</text>
<text transform="translate(36.2,854.5) rotate(-90)" font-family="Liberation Sans" font-size="17.8" fill="#000">Ratio to ATLAS</text>
<text transform="translate(31.5,71.5) rotate(-90)" font-family="Liberation Sans" font-size="24" fill="#000">ρ(r)</text>
<text transform="translate(759.4,254.8) rotate(-90)" font-family="Liberation Sans" font-size="19" fill="#666666">Rivet 4.1.0, ≥ 100k events</text>
<text transform="translate(761.5,628.7) rotate(-90)" font-family="Liberation Sans" font-size="19" fill="#666666">mcplots.cern.ch [arXiv:1306.3436]</text>
</svg>
</body></html>
